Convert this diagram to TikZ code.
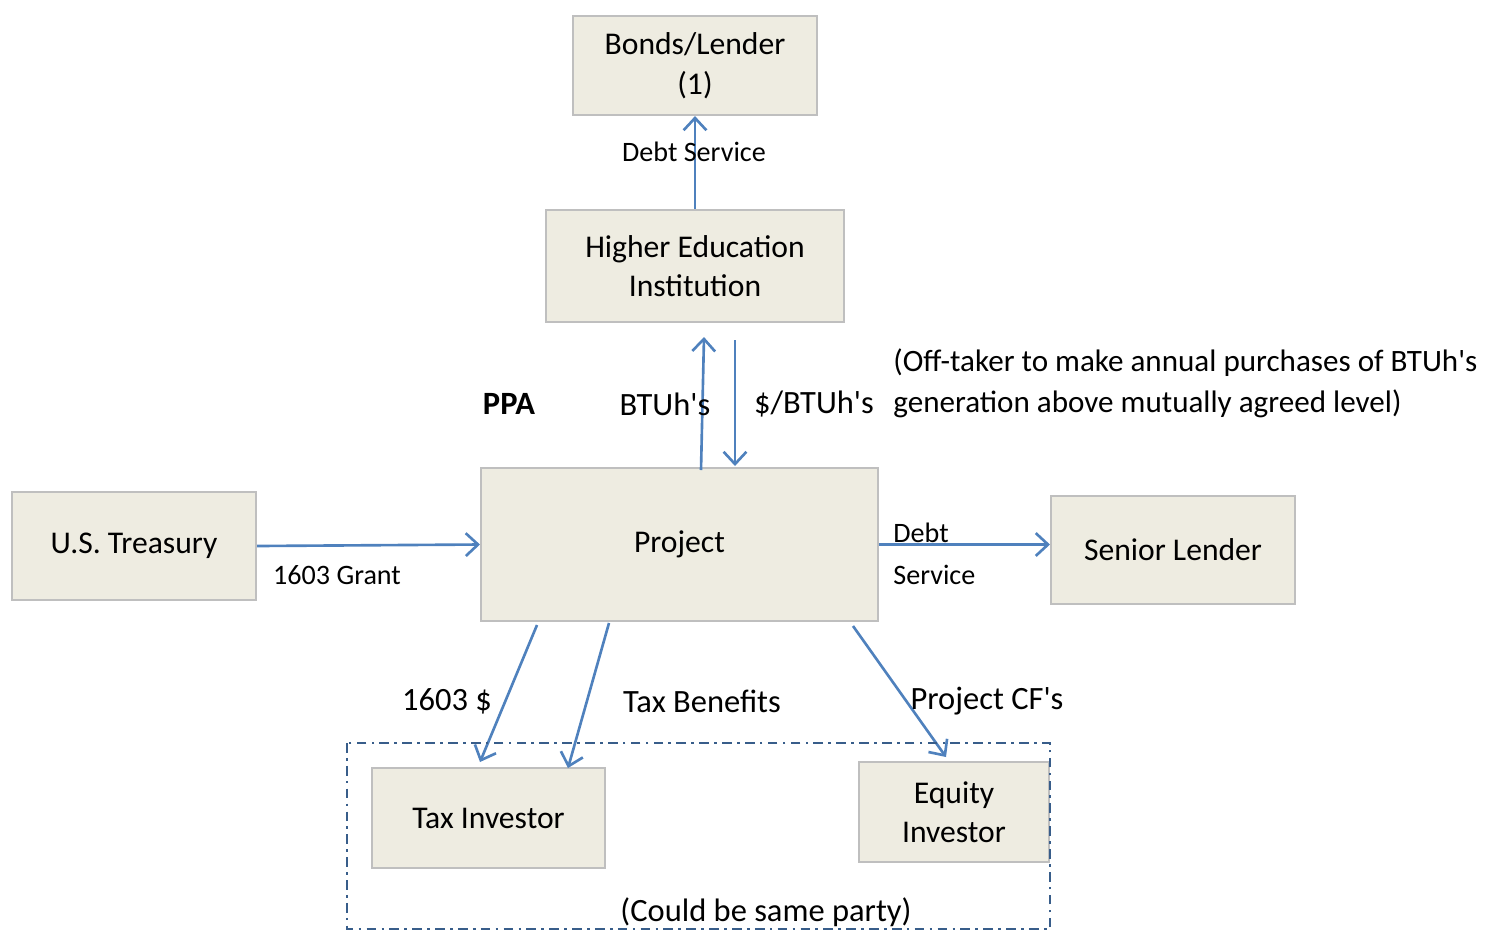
\documentclass[tikz,border=0pt]{standalone}
\usepackage{fontspec}
\setmainfont{Carlito}
\usetikzlibrary{arrows.meta}

\definecolor{boxfill}{HTML}{EEECE1}
\definecolor{boxline}{HTML}{BFBFBF}
\definecolor{flow}{HTML}{4F81BD}
\definecolor{group}{HTML}{385D8A}

\tikzset{
  party/.style={draw=boxline, fill=boxfill, line width=1.2pt, rectangle, align=center,
    font=\fontsize{18}{22.5}\selectfont},
  cash/.style={draw=flow, line width=1.5pt, -{Straight Barb[length=7pt,width=13pt]}},
  lbl/.style={font=\fontsize{16}{19}\selectfont, inner sep=0pt},
  big/.style={font=\fontsize{18.5}{23.5}\selectfont, inner sep=0pt}
}
\newcommand{\aps}{\textquotesingle}

\begin{document}
\begin{tikzpicture}[x=0.02cm, y=-0.02cm]
\useasboundingbox (0,0) rectangle (1500,931);

% parties
\node[party, minimum width=4.88cm, minimum height=1.98cm] (bonds) at (695,65.5) {Bonds/Lender\\(1)};
\node[party, minimum width=5.96cm, minimum height=2.24cm] (hei) at (695,266) {Higher Education\\Institution};
\node[party, minimum width=7.94cm, minimum height=3.06cm] (proj) at (679.5,544.5) {Project};
\node[party, minimum width=4.88cm, minimum height=2.16cm] (treas) at (134,546) {U.S. Treasury};
\node[party, minimum width=4.88cm, minimum height=2.16cm] (senior) at (1173,550) {Senior Lender};
\node[party, minimum width=4.66cm, minimum height=2.0cm] (taxinv) at (488.5,818) {Tax Investor};
\node[party, minimum width=3.8cm, minimum height=2.0cm] (eqinv) at (954,812) {Equity\\Investor};

% ends of the flows
\coordinate (btuS) at (701,470);
\coordinate (btuE) at (704,337);
\coordinate (payS) at (735,340);
\coordinate (payE) at (735,466);
\coordinate (grantS) at (537,625);
\coordinate (grantE) at (480,762);
\coordinate (taxS) at (609,623);
\coordinate (taxE) at (568,768);
\coordinate (cfS) at (853,626);
\coordinate (cfE) at (946,757);

\draw[cash] (hei.north) -- (bonds.south);
\draw[cash] (btuS) -- (btuE);
\draw[cash] (payS) -- (payE);
\draw[cash] (treas.east) -- (proj.west);
\draw[cash] (proj.east) -- (proj.east -| senior.west);
\foreach \s/\e in {grantS/grantE, taxS/taxE, cfS/cfE}
  {\draw[cash] (\s) -- (\e);}

% group of investors
\draw[group, line width=1.5pt, dash pattern=on 5.5pt off 3pt on 1.5pt off 3pt]
  (347,743) rectangle (1050,929);

% labels
\node[lbl] (dsl) at (694,152) {Debt Service};
\node[big] (ppa) at (509,404) {\bfseries PPA};
\node[big] (btu) at (665,404) {BTUh\aps s};
\node[big] (pay) at (814,404) {\$/BTUh\aps s};
\node[inner sep=0pt, font=\fontsize{17.7}{23.5}\selectfont, anchor=west, align=left] (note) at (893,383)
  {(Off-taker to make annual purchases of BTUh\aps s\\generation above mutually agreed level)};
\node[lbl] (grant) at (337,575) {1603 Grant};
\node[lbl, anchor=west] (debt) at (893,533) {Debt};
\node[lbl, anchor=west] (serv) at (893,575) {Service};
\node[big] (cash) at (447,701) {1603 \$};
\node[big] (taxb) at (702,701) {Tax Benefits};
\node[big] (pcf) at (987,701) {Project CF\aps s};
\node[big] (same) at (766,912) {(Could be same party)};
\end{tikzpicture}
\end{document}
